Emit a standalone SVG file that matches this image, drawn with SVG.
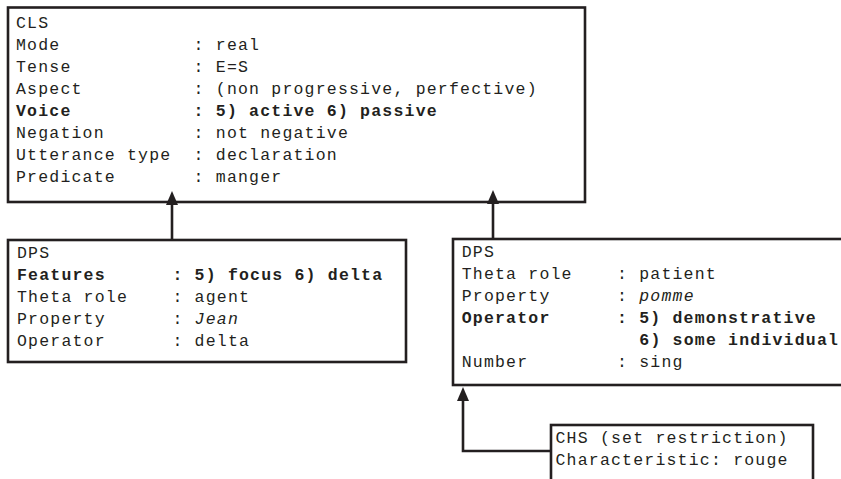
<svg xmlns="http://www.w3.org/2000/svg" width="841" height="479" viewBox="0 0 841 479">
<style>
  .box { fill: #ffffff; stroke: #231f20; stroke-width: 2.6; }
  .t { font-family: "Liberation Mono", "Courier New", monospace; font-size: 16.5px; letter-spacing: 1.2px; fill: #231f20; }
  .b { font-weight: bold; }
  .i { font-style: italic; }
  .conn { fill: none; stroke: #231f20; stroke-width: 2.6; }
</style>
<defs>
  <marker id="arrow" viewBox="0 0 14 12" refX="9" refY="6" markerWidth="14" markerHeight="12" markerUnits="userSpaceOnUse" orient="auto">
    <path d="M0,0 L14,6 L0,12 z" fill="#231f20"/>
  </marker>
</defs>
<rect width="841" height="479" fill="#ffffff"/>

<g id="CLS">
  <rect class="box" x="8" y="7.5" width="577" height="194.5"/>
  <text class="t" x="16" y="27.5">CLS</text>
  <text class="t" x="16" y="49.5">Mode</text><text class="t" x="193.6" y="49.5">: real</text>
  <text class="t" x="16" y="71.5">Tense</text><text class="t" x="193.6" y="71.5">: E=S</text>
  <text class="t" x="16" y="93.5">Aspect</text><text class="t" x="193.6" y="93.5">: (non progressive, perfective)</text>
  <text class="t b" x="16" y="115.5">Voice</text><text class="t b" x="193.6" y="115.5">: 5) active 6) passive</text>
  <text class="t" x="16" y="137.5">Negation</text><text class="t" x="193.6" y="137.5">: not negative</text>
  <text class="t" x="16" y="159.5">Utterance type</text><text class="t" x="193.6" y="159.5">: declaration</text>
  <text class="t" x="16" y="181.5">Predicate</text><text class="t" x="193.6" y="181.5">: manger</text>
</g>

<g id="DPS1">
  <rect class="box" x="8" y="240" width="398" height="122"/>
  <text class="t" x="17" y="258">DPS</text>
  <text class="t b" x="17" y="280">Features</text><text class="t b" x="172.4" y="280">: 5) focus 6) delta</text>
  <text class="t" x="17" y="302">Theta role</text><text class="t" x="172.4" y="302">: agent</text>
  <text class="t" x="17" y="324">Property</text><text class="t" x="172.4" y="324">: <tspan class="i">Jean</tspan></text>
  <text class="t" x="17" y="346">Operator</text><text class="t" x="172.4" y="346">: delta</text>
</g>

<g id="DPS2">
  <rect class="box" x="453" y="239" width="420" height="146"/>
  <text class="t" x="461.7" y="257">DPS</text>
  <text class="t" x="461.7" y="279">Theta role</text><text class="t" x="617" y="279">: patient</text>
  <text class="t" x="461.7" y="301">Property</text><text class="t" x="617" y="301">: <tspan class="i">pomme</tspan></text>
  <text class="t b" x="461.7" y="323">Operator</text><text class="t b" x="617" y="323">: 5) demonstrative</text>
  <text class="t b" x="639.3" y="345">6) some individual</text>
  <text class="t" x="461.7" y="367">Number</text><text class="t" x="617" y="367">: sing</text>
</g>

<g id="CHS">
  <rect class="box" x="551" y="425" width="262" height="70"/>
  <text class="t" x="555.5" y="443">CHS (set restriction)</text>
  <text class="t" x="555.5" y="465">Characteristic: rouge</text>
</g>

<g id="connectors">
  <path class="conn" d="M172,240 L172,196" marker-end="url(#arrow)"/>
  <path class="conn" d="M493,239 L493,195" marker-end="url(#arrow)"/>
  <path class="conn" d="M551,451 L463,451 L463,392" marker-end="url(#arrow)"/>
</g>
</svg>
